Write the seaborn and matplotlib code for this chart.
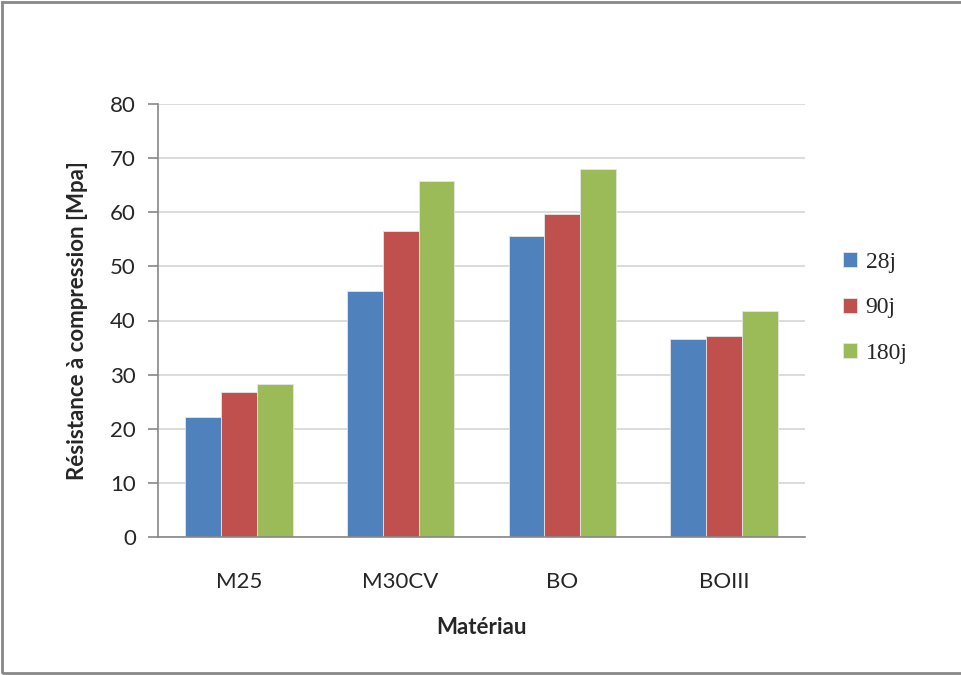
import matplotlib
matplotlib.use("Agg")
import matplotlib.pyplot as plt
import pandas as pd
import seaborn as sns
from matplotlib.patches import Rectangle

materials = ["M25", "M30CV", "BO", "BOIII"]
ages = ["28j", "90j", "180j"]
vals_28j = [22.2, 45.4, 55.6, 36.5]
vals_90j = [26.8, 56.5, 59.7, 37.2]
vals_180j = [28.2, 65.7, 68.0, 41.8]
y_ticks = [0, 10, 20, 30, 40, 50, 60, 70, 80]
colors = ["#4F81BD", "#C0504D", "#9BBB59"]

df = pd.DataFrame({
    "Matériau": materials * 3,
    "age": [a for a in ages for _ in materials],
    "val": vals_28j + vals_90j + vals_180j,
})

sns.set_theme(style="white")
plt.rcParams["font.family"] = ["Lato", "DejaVu Sans"]

fig = plt.figure(figsize=(9.61, 6.75), dpi=100)
ax = fig.add_axes([158 / 961, 1 - 537 / 675, (805 - 158) / 961, (537 - 104) / 675])

sns.barplot(data=df, x="Matériau", y="val", hue="age", hue_order=ages, palette=colors,
            width=0.665, gap=0, saturation=1, edgecolor="#E6E6E6", linewidth=0.6, ax=ax)

ax.set_xlim(-0.5, 3.5)
ax.set_ylim(0, 80)
ax.set_yticks(y_ticks)
ax.yaxis.grid(True, color="#D9D9D5", linewidth=1.3)
ax.set_axisbelow(True)
for s in ["top", "right"]:
    ax.spines[s].set_visible(False)
for s in ["left", "bottom"]:
    ax.spines[s].set_color("#888888")
    ax.spines[s].set_linewidth(1.2)
ax.tick_params(axis="y", length=7, width=1.2, color="#888888", labelsize=16, pad=9, left=True)
ax.tick_params(axis="x", length=0, labelsize=16, pad=25)
ax.set_xlabel("Matériau", fontsize=16, fontweight="bold", labelpad=18)
ax.set_ylabel("Résistance à compression [Mpa]", fontsize=16, fontweight="bold", labelpad=16)

handles, labels = ax.get_legend_handles_labels()
ax.legend(handles, labels, loc="center left", bbox_to_anchor=(822 / 961, 1 - 308 / 675),
          bbox_transform=fig.transFigure, frameon=False, handlelength=0.6, handleheight=0.6,
          handletextpad=0.35, labelspacing=1.05, prop={"family": "Liberation Serif", "size": 17})

fig.patches.append(Rectangle((2 / 961, 2 / 675), 1.1, 1 - 4 / 675, transform=fig.transFigure,
                             fill=False, edgecolor="#888888", linewidth=2))

fig.savefig("out.png", dpi=100)
